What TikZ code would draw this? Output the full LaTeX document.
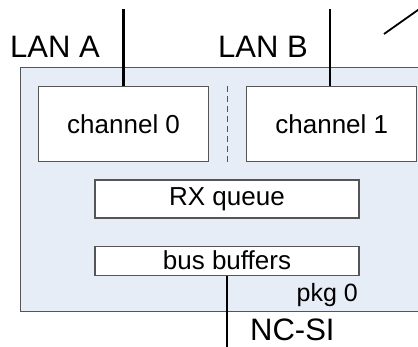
\documentclass[tikz,border=0pt]{standalone}
\usepackage{fontspec}
\setmainfont{Liberation Sans}
\usetikzlibrary{positioning,fit,calc}
\definecolor{pkgblue}{RGB}{230,237,247}
\definecolor{edgegrey}{RGB}{85,85,85}

\begin{document}
\begin{tikzpicture}[x=1pt, y=-1pt,
  node distance=7mm,
  wire/.style={line width=2.8pt},
  outlabel/.style={font=\fontsize{31}{31}\selectfont, inner sep=0pt},
  boxlabel/.style={font=\fontsize{25}{25}\selectfont, inner sep=0pt}
]
	\tikzstyle{package} = [rectangle, minimum width=430pt, minimum height=244pt, draw=edgegrey, line width=1.2pt, fill=pkgblue, anchor=north west]
	\tikzstyle{channel} = [rectangle, minimum width=170pt, minimum height=75pt, text centered, draw=edgegrey, line width=1.2pt, fill=white, font=\fontsize{26}{26}\selectfont]
	\tikzstyle{queue} = [rectangle, minimum width=264pt, text centered, draw=edgegrey, line width=1.2pt, fill=white, font=\fontsize{26}{26}\selectfont]

	\clip (0,0) rectangle (418,347);
	\node (pkg) [package] at (20,67) {};

	\node (channel0) [channel, anchor=north west] at (38,86) {channel 0};
	\node (channel1) [channel, right=37pt of channel0] {channel 1};
	\draw[edgegrey, line width=1pt, dash pattern=on 6pt off 4pt] ($(channel0.north east)!0.5!(channel1.north west)$) -- ($(channel0.south east)!0.5!(channel1.south west)$);

	\node (rxQueue) [queue, minimum height=38pt] at (227,199) {RX queue};
	\node (busBuffers) [queue, minimum height=29pt, below=27pt of rxQueue] {bus buffers};
	\node (pkgLabel) [boxlabel, anchor=base east] at (358,302) {pkg 0};

	% uplinks and host link
	\coordinate (lanAtop) at (channel0.north |- 0,9);
	\coordinate (lanBtop) at (330,9);
	\coordinate (ncsiEnd) at (busBuffers.south |- 0,347);
	\draw[wire] (channel0.north) -- (lanAtop);
	\draw[wire] (channel1.north -| lanBtop) -- (lanBtop);
	\draw[wire] (busBuffers.south) -- (ncsiEnd);

	\node (lanA) [outlabel, anchor=base east] at (100,58) {LAN A};
	\node (lanB) [outlabel, anchor=base west] at (218,58) {LAN B};
	\node (ncsi) [outlabel, anchor=base west] at (250,341) {NC-SI};

	\coordinate (linkStart) at (384,34);
	\coordinate (linkEnd) at (430,1.5);
	\draw[line width=1.8pt] (linkStart) -- (linkEnd);
\end{tikzpicture}
\end{document}
